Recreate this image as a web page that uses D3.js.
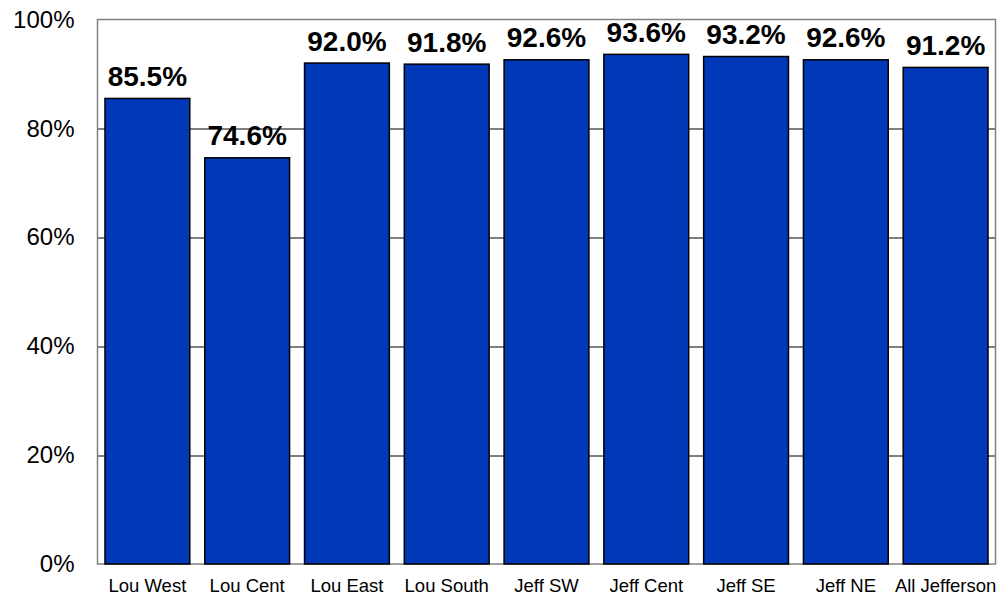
<!DOCTYPE html>
<html>
<head>
<meta charset="utf-8">
<script src="https://cdn.jsdelivr.net/npm/d3@7"></script>
<style>
  body { margin: 0; background: #fff; }
  svg { display: block; font-family: "Liberation Sans", Arial, sans-serif; }
</style>
</head>
<body>
<div id="chart"></div>
<script>
const categories = ["Lou West", "Lou Cent", "Lou East", "Lou South", "Jeff SW", "Jeff Cent", "Jeff SE", "Jeff NE", "All Jefferson"];
const values = [85.5, 74.6, 92.0, 91.8, 92.6, 93.6, 93.2, 92.6, 91.2];
const yTicks = [0, 20, 40, 60, 80, 100];

const w = 999, h = 597;
const margin = {top: 19.5, right: 3.5, bottom: 33, left: 97.5};
const width = w - margin.left - margin.right;
const height = h - margin.top - margin.bottom;

const svg = d3.select("#chart").append("svg")
  .attr("width", w)
  .attr("height", h);

const g = svg.append("g")
  .attr("transform", "translate(" + margin.left + "," + margin.top + ")");

const x = d3.scaleBand()
  .domain(categories)
  .range([0, width])
  .paddingInner(0.15)
  .paddingOuter(0.075);

const y = d3.scaleLinear()
  .domain([0, 100])
  .range([height, 0]);

// gridlines
g.selectAll("line.grid")
  .data(yTicks.filter(d => d > 0 && d < 100))
  .enter()
  .append("line")
  .attr("class", "grid")
  .attr("x1", 0)
  .attr("x2", width)
  .attr("y1", d => Math.round(y(d)) + 0.5)
  .attr("y2", d => Math.round(y(d)) + 0.5)
  .attr("stroke", "#000")
  .attr("stroke-width", 1);

// plot border
g.append("rect")
  .attr("x", 0)
  .attr("y", 0)
  .attr("width", width)
  .attr("height", height)
  .attr("fill", "none")
  .attr("stroke", "#808080")
  .attr("stroke-width", 1.5);

// bars
g.selectAll("rect.bar")
  .data(values)
  .enter()
  .append("rect")
  .attr("class", "bar")
  .attr("x", (d, i) => x(categories[i]))
  .attr("y", d => y(d))
  .attr("width", x.bandwidth())
  .attr("height", d => height - y(d))
  .attr("fill", "#0038B8")
  .attr("stroke", "#000")
  .attr("stroke-width", 1.5);

// value labels
g.selectAll("text.val")
  .data(values)
  .enter()
  .append("text")
  .attr("class", "val")
  .attr("x", (d, i) => x(categories[i]) + x.bandwidth() / 2)
  .attr("y", d => y(d) - 12.5)
  .attr("text-anchor", "middle")
  .style("font-size", "28px")
  .style("font-weight", "bold")
  .text(d => d.toFixed(1) + "%");

// y axis labels
const yAxis = d3.axisLeft(y)
  .tickValues(yTicks)
  .tickSize(0)
  .tickPadding(23)
  .tickFormat(d => d + "%");

g.append("g")
  .call(yAxis)
  .call(sel => sel.select(".domain").remove())
  .selectAll("text")
  .attr("fill", "#000")
  .style("font-size", "24px")
  .style("font-family", "Liberation Sans, Arial, sans-serif");

// x axis labels
const xAxis = d3.axisBottom(x)
  .tickSize(0)
  .tickPadding(15);

g.append("g")
  .attr("transform", "translate(0," + height + ")")
  .call(xAxis)
  .call(sel => sel.select(".domain").remove())
  .selectAll("text")
  .attr("fill", "#000")
  .style("font-size", "18.5px")
  .style("font-family", "Liberation Sans, Arial, sans-serif");
</script>
</body>
</html>
